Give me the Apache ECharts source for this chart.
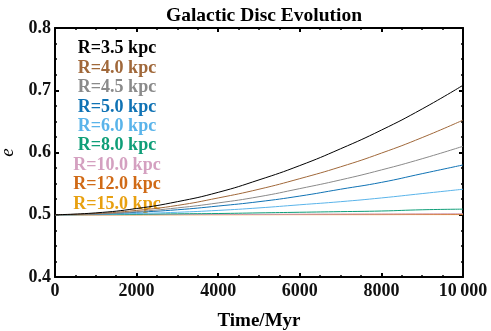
<!DOCTYPE html>
<html>
<head>
<meta charset="utf-8">
<script src="https://cdn.jsdelivr.net/npm/echarts@6/dist/echarts.min.js"></script>
<style>
  html, body { margin: 0; padding: 0; background: #fff; }
  #chart { width: 491px; height: 331px; }
</style>
</head>
<body>
<div id="chart"></div>
<script>
// time in Myr
var times = [0, 1000, 2000, 3000, 4000, 5000, 6000, 7000, 8000, 9000, 10000];

var radii = ['R=3.5 kpc', 'R=4.0 kpc', 'R=4.5 kpc', 'R=5.0 kpc', 'R=6.0 kpc',
             'R=8.0 kpc', 'R=10.0 kpc', 'R=12.0 kpc', 'R=15.0 kpc'];

var colors = ['#000000', '#a0683a', '#8a8a8a', '#0f72b4', '#5ab4ea',
              '#0f9e78', '#d4a0c0', '#d06a16', '#e8a010'];

// eccentricity
var e35 = [0.5, 0.503, 0.510, 0.521, 0.536, 0.556, 0.579, 0.606, 0.636, 0.670, 0.708];
var e40 = [0.5, 0.502, 0.507, 0.515, 0.527, 0.541, 0.558, 0.577, 0.599, 0.624, 0.652];
var e45 = [0.5, 0.501, 0.505, 0.511, 0.519, 0.529, 0.542, 0.556, 0.572, 0.590, 0.610];
var e50 = [0.5, 0.501, 0.504, 0.508, 0.514, 0.521, 0.530, 0.541, 0.552, 0.566, 0.580];
var e60 = [0.5, 0.5005, 0.502, 0.504, 0.507, 0.511, 0.516, 0.521, 0.527, 0.534, 0.541];
var e80 = [0.5, 0.5003, 0.5008, 0.5015, 0.502, 0.503, 0.504, 0.505, 0.506, 0.508, 0.509];
var e100 = [0.5, 0.5001, 0.5002, 0.5003, 0.5005, 0.5006, 0.5008, 0.501, 0.5011, 0.5013, 0.5015];
var e120 = [0.5, 0.5, 0.5001, 0.5002, 0.5003, 0.5004, 0.5005, 0.5006, 0.5007, 0.5008, 0.5008];
var e150 = [0.5, 0.5, 0.5, 0.5001, 0.5001, 0.5001, 0.5002, 0.5002, 0.5002, 0.5003, 0.5003];
var allE = [e35, e40, e45, e50, e60, e80, e100, e120, e150];

var serif = '"Liberation Serif", "DejaVu Serif", serif';

var chart = echarts.init(document.getElementById('chart'));

var series = [];
var legendData = [];
for (var i = 0; i < radii.length; i++) {
    var pts = [];
    for (var j = 0; j < times.length; j++) {
        pts.push([times[j], allE[i][j]]);
    }
    series.push({
        name: radii[i],
        type: 'line',
        data: pts,
        smooth: true,
        showSymbol: false,
        lineStyle: { color: colors[i], width: 1 },
        itemStyle: { color: colors[i] },
        z: 10 - i
    });
    legendData.push({ name: radii[i], icon: 'none', textStyle: { color: colors[i] } });
}

function frameAxis(extra) {
    return Object.assign({
        axisLine: { show: true, onZero: false, lineStyle: { color: '#000', width: 2 } },
        axisTick: { show: true, inside: true, length: 4, lineStyle: { color: '#000', width: 2 } },
        minorTick: { show: true, splitNumber: 4, length: 2, lineStyle: { color: '#000', width: 1.5 } },
        splitLine: { show: false }
    }, extra);
}

var option = {
    animation: false,
    color: colors,
    title: {
        text: 'Galactic Disc Evolution',
        left: 259,
        textAlign: 'center',
        top: 1,
        textStyle: { fontFamily: serif, fontWeight: 'bold', fontSize: 19.5, color: '#000' }
    },
    legend: {
        data: legendData,
        orient: 'vertical',
        left: 72,
        top: 39,
        padding: 0,
        itemWidth: 0,
        itemHeight: 0,
        itemGap: 0,
        formatter: '{c|{name}}',
        textStyle: {
            fontFamily: serif, fontWeight: 'bold', fontSize: 18,
            lineHeight: 19.4, padding: [0, 0, 0, -5],
            rich: {
                c: { width: 90, align: 'center', fontFamily: serif, fontWeight: 'bold', fontSize: 18, lineHeight: 19.4 }
            }
        }
    },
    grid: { left: 55, right: 28, top: 28, bottom: 54, outerBoundsMode: 'none' },
    xAxis: [
        frameAxis({
            type: 'value', min: 0, max: 10000, interval: 2000,
            name: 'Time/Myr', nameLocation: 'middle', nameGap: 35,
            nameTextStyle: { fontFamily: serif, fontWeight: 'bold', fontSize: 19, color: '#000' },
            axisLabel: {
                fontFamily: serif, fontWeight: 'bold', fontSize: 18, color: '#111', margin: 5,
                formatter: function (v) { return v === 10000 ? '10\u2009000' : String(v); }
            }
        }),
        frameAxis({
            type: 'value', min: 0, max: 10000, interval: 2000, position: 'top',
            axisLabel: { show: false }
        })
    ],
    yAxis: [
        frameAxis({
            type: 'value', min: 0.4, max: 0.8, interval: 0.1,
            name: 'e', nameLocation: 'middle', nameGap: 37, nameRotate: 90,
            nameTextStyle: { fontFamily: serif, fontStyle: 'italic', fontSize: 19, color: '#000' },
            axisLabel: {
                fontFamily: serif, fontWeight: 'bold', fontSize: 18, color: '#111', margin: 4,
                formatter: function (v) { return v.toFixed(1); }
            }
        }),
        frameAxis({
            type: 'value', min: 0.4, max: 0.8, interval: 0.1, position: 'right',
            axisLabel: { show: false }
        })
    ],
    series: series
};

chart.setOption(option);
</script>
</body>
</html>
